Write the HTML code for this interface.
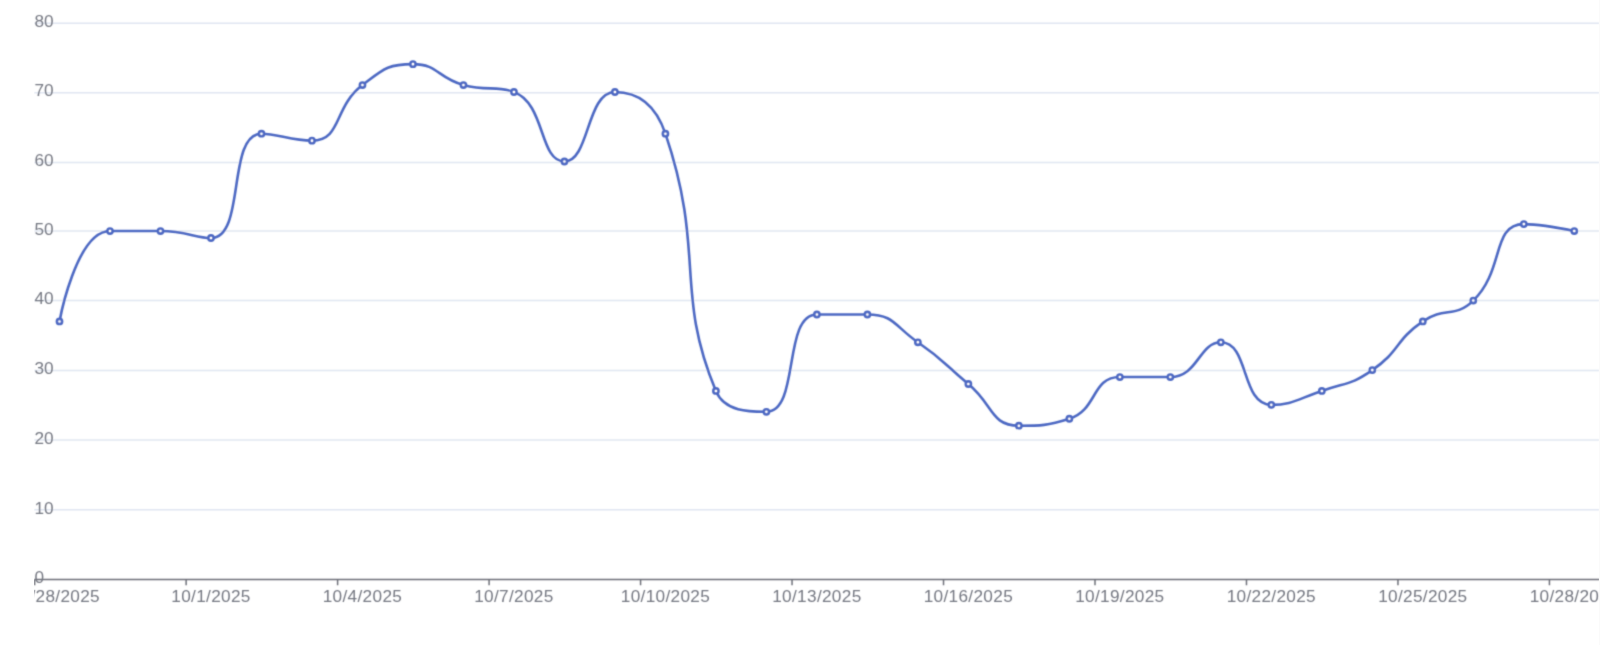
<!DOCTYPE html>
<html><head><meta charset="utf-8"><style>
html,body{margin:0;padding:0;background:#fff;width:1600px;height:645px;overflow:hidden}
svg{display:block;font-family:"Liberation Sans",sans-serif}
</style></head><body>
<svg width="1600" height="645" viewBox="0 0 1600 645">
<defs><filter id="bl" x="-1%" y="-1%" width="102%" height="102%"><feConvolveMatrix order="3" kernelMatrix="0.0277 0.1110 0.0277 0.1110 0.4452 0.1110 0.0277 0.1110 0.0277" divisor="1" edgeMode="none"/></filter><clipPath id="c"><rect x="34.00" y="0" width="1565.00" height="645"/></clipPath></defs>
<g clip-path="url(#c)"><g filter="url(#bl)">
<line x1="34.35" y1="509.70" x2="1599" y2="509.70" stroke="#E0E6F1" stroke-width="1.5"/>
<line x1="34.35" y1="440.10" x2="1599" y2="440.10" stroke="#E0E6F1" stroke-width="1.5"/>
<line x1="34.35" y1="370.40" x2="1599" y2="370.40" stroke="#E0E6F1" stroke-width="1.5"/>
<line x1="34.35" y1="300.40" x2="1599" y2="300.40" stroke="#E0E6F1" stroke-width="1.5"/>
<line x1="34.35" y1="231.00" x2="1599" y2="231.00" stroke="#E0E6F1" stroke-width="1.5"/>
<line x1="34.35" y1="162.50" x2="1599" y2="162.50" stroke="#E0E6F1" stroke-width="1.5"/>
<line x1="34.35" y1="92.70" x2="1599" y2="92.70" stroke="#E0E6F1" stroke-width="1.5"/>
<line x1="34.35" y1="23.20" x2="1599" y2="23.20" stroke="#E0E6F1" stroke-width="1.5"/>
<line x1="34.35" y1="579.55" x2="1599.6" y2="579.55" stroke="#6E7079" stroke-width="1.5"/>
<line x1="34.65" y1="579.55" x2="34.65" y2="585.25" stroke="#6E7079" stroke-width="1.5"/>
<line x1="186.13" y1="579.55" x2="186.13" y2="585.25" stroke="#6E7079" stroke-width="1.5"/>
<line x1="337.61" y1="579.55" x2="337.61" y2="585.25" stroke="#6E7079" stroke-width="1.5"/>
<line x1="489.09" y1="579.55" x2="489.09" y2="585.25" stroke="#6E7079" stroke-width="1.5"/>
<line x1="640.57" y1="579.55" x2="640.57" y2="585.25" stroke="#6E7079" stroke-width="1.5"/>
<line x1="792.04" y1="579.55" x2="792.04" y2="585.25" stroke="#6E7079" stroke-width="1.5"/>
<line x1="943.52" y1="579.55" x2="943.52" y2="585.25" stroke="#6E7079" stroke-width="1.5"/>
<line x1="1095.00" y1="579.55" x2="1095.00" y2="585.25" stroke="#6E7079" stroke-width="1.5"/>
<line x1="1246.48" y1="579.55" x2="1246.48" y2="585.25" stroke="#6E7079" stroke-width="1.5"/>
<line x1="1397.96" y1="579.55" x2="1397.96" y2="585.25" stroke="#6E7079" stroke-width="1.5"/>
<line x1="1549.44" y1="579.55" x2="1549.44" y2="585.25" stroke="#6E7079" stroke-width="1.5"/>
<text x="34.4" y="583" font-size="17.2" fill="#757882">0</text>
<text x="34.4" y="514" font-size="17.2" fill="#757882">10</text>
<text x="34.4" y="444" font-size="17.2" fill="#757882">20</text>
<text x="34.4" y="374" font-size="17.2" fill="#757882">30</text>
<text x="34.4" y="304" font-size="17.2" fill="#757882">40</text>
<text x="34.4" y="235" font-size="17.2" fill="#757882">50</text>
<text x="34.4" y="166" font-size="17.2" fill="#757882">60</text>
<text x="34.4" y="96" font-size="17.2" fill="#757882">70</text>
<text x="34.4" y="27" font-size="17.2" fill="#757882">80</text>
<text x="60.30" y="602.2" font-size="17.2" fill="#757882" text-anchor="middle" letter-spacing="0.33">9/28/2025</text>
<text x="210.98" y="602.2" font-size="17.2" fill="#757882" text-anchor="middle" letter-spacing="0.33">10/1/2025</text>
<text x="362.46" y="602.2" font-size="17.2" fill="#757882" text-anchor="middle" letter-spacing="0.33">10/4/2025</text>
<text x="513.94" y="602.2" font-size="17.2" fill="#757882" text-anchor="middle" letter-spacing="0.33">10/7/2025</text>
<text x="665.42" y="602.2" font-size="17.2" fill="#757882" text-anchor="middle" letter-spacing="0.33">10/10/2025</text>
<text x="816.89" y="602.2" font-size="17.2" fill="#757882" text-anchor="middle" letter-spacing="0.33">10/13/2025</text>
<text x="968.37" y="602.2" font-size="17.2" fill="#757882" text-anchor="middle" letter-spacing="0.33">10/16/2025</text>
<text x="1119.85" y="602.2" font-size="17.2" fill="#757882" text-anchor="middle" letter-spacing="0.33">10/19/2025</text>
<text x="1271.33" y="602.2" font-size="17.2" fill="#757882" text-anchor="middle" letter-spacing="0.33">10/22/2025</text>
<text x="1422.81" y="602.2" font-size="17.2" fill="#757882" text-anchor="middle" letter-spacing="0.33">10/25/2025</text>
<text x="1574.29" y="602.2" font-size="17.2" fill="#757882" text-anchor="middle" letter-spacing="0.33">10/28/2025</text>
<path d="M59.50,321.43C59.50,321.43 76.05,231.04 109.99,231.04C126.55,231.04 135.36,231.04 160.49,231.04C185.85,231.04 195.55,237.99 210.98,237.99C246.05,237.99 226.40,133.70 261.47,133.70C276.90,133.70 291.55,140.65 311.97,140.65C342.05,140.65 333.22,107.17 362.46,85.03C383.72,68.93 387.70,64.17 412.95,64.17C438.20,64.17 437.32,77.83 463.44,85.03C487.81,91.74 495.14,85.03 513.94,91.98C545.63,103.70 539.18,161.51 564.43,161.51C589.68,161.51 586.27,91.98 614.92,91.98C636.76,91.98 655.32,103.82 665.42,133.70C705.82,253.31 674.12,290.86 715.91,390.96C724.62,411.82 749.61,411.82 766.40,411.82C800.10,411.82 782.32,314.48 816.89,314.48C832.81,314.48 843.81,314.48 867.39,314.48C894.30,314.48 894.24,326.01 917.88,342.29C944.74,360.78 943.13,363.15 968.37,384.01C993.62,404.87 990.47,425.72 1018.87,425.72C1040.96,425.72 1047.26,425.72 1069.36,418.77C1097.76,409.84 1091.34,377.05 1119.85,377.05C1141.83,377.05 1147.54,377.05 1170.35,377.05C1198.03,377.05 1199.00,342.29 1220.84,342.29C1249.49,342.29 1240.76,404.87 1271.33,404.87C1291.25,404.87 1297.11,399.47 1321.83,390.96C1347.60,382.08 1350.21,385.32 1372.32,370.10C1400.70,350.56 1394.43,340.97 1422.81,321.43C1444.92,306.21 1454.45,318.75 1473.30,300.57C1504.94,270.08 1491.35,224.09 1523.80,224.09C1541.84,224.09 1574.29,231.04 1574.29,231.04" fill="none" stroke="#4D69C3" stroke-width="2.6" stroke-linejoin="bevel"/>
<circle cx="59.50" cy="321.43" r="2.6" fill="#fff" stroke="#4D69C3" stroke-width="2.6"/>
<circle cx="109.99" cy="231.04" r="2.6" fill="#fff" stroke="#4D69C3" stroke-width="2.6"/>
<circle cx="160.49" cy="231.04" r="2.6" fill="#fff" stroke="#4D69C3" stroke-width="2.6"/>
<circle cx="210.98" cy="237.99" r="2.6" fill="#fff" stroke="#4D69C3" stroke-width="2.6"/>
<circle cx="261.47" cy="133.70" r="2.6" fill="#fff" stroke="#4D69C3" stroke-width="2.6"/>
<circle cx="311.97" cy="140.65" r="2.6" fill="#fff" stroke="#4D69C3" stroke-width="2.6"/>
<circle cx="362.46" cy="85.03" r="2.6" fill="#fff" stroke="#4D69C3" stroke-width="2.6"/>
<circle cx="412.95" cy="64.17" r="2.6" fill="#fff" stroke="#4D69C3" stroke-width="2.6"/>
<circle cx="463.44" cy="85.03" r="2.6" fill="#fff" stroke="#4D69C3" stroke-width="2.6"/>
<circle cx="513.94" cy="91.98" r="2.6" fill="#fff" stroke="#4D69C3" stroke-width="2.6"/>
<circle cx="564.43" cy="161.51" r="2.6" fill="#fff" stroke="#4D69C3" stroke-width="2.6"/>
<circle cx="614.92" cy="91.98" r="2.6" fill="#fff" stroke="#4D69C3" stroke-width="2.6"/>
<circle cx="665.42" cy="133.70" r="2.6" fill="#fff" stroke="#4D69C3" stroke-width="2.6"/>
<circle cx="715.91" cy="390.96" r="2.6" fill="#fff" stroke="#4D69C3" stroke-width="2.6"/>
<circle cx="766.40" cy="411.82" r="2.6" fill="#fff" stroke="#4D69C3" stroke-width="2.6"/>
<circle cx="816.89" cy="314.48" r="2.6" fill="#fff" stroke="#4D69C3" stroke-width="2.6"/>
<circle cx="867.39" cy="314.48" r="2.6" fill="#fff" stroke="#4D69C3" stroke-width="2.6"/>
<circle cx="917.88" cy="342.29" r="2.6" fill="#fff" stroke="#4D69C3" stroke-width="2.6"/>
<circle cx="968.37" cy="384.01" r="2.6" fill="#fff" stroke="#4D69C3" stroke-width="2.6"/>
<circle cx="1018.87" cy="425.72" r="2.6" fill="#fff" stroke="#4D69C3" stroke-width="2.6"/>
<circle cx="1069.36" cy="418.77" r="2.6" fill="#fff" stroke="#4D69C3" stroke-width="2.6"/>
<circle cx="1119.85" cy="377.05" r="2.6" fill="#fff" stroke="#4D69C3" stroke-width="2.6"/>
<circle cx="1170.35" cy="377.05" r="2.6" fill="#fff" stroke="#4D69C3" stroke-width="2.6"/>
<circle cx="1220.84" cy="342.29" r="2.6" fill="#fff" stroke="#4D69C3" stroke-width="2.6"/>
<circle cx="1271.33" cy="404.87" r="2.6" fill="#fff" stroke="#4D69C3" stroke-width="2.6"/>
<circle cx="1321.83" cy="390.96" r="2.6" fill="#fff" stroke="#4D69C3" stroke-width="2.6"/>
<circle cx="1372.32" cy="370.10" r="2.6" fill="#fff" stroke="#4D69C3" stroke-width="2.6"/>
<circle cx="1422.81" cy="321.43" r="2.6" fill="#fff" stroke="#4D69C3" stroke-width="2.6"/>
<circle cx="1473.30" cy="300.57" r="2.6" fill="#fff" stroke="#4D69C3" stroke-width="2.6"/>
<circle cx="1523.80" cy="224.09" r="2.6" fill="#fff" stroke="#4D69C3" stroke-width="2.6"/>
<circle cx="1574.29" cy="231.04" r="2.6" fill="#fff" stroke="#4D69C3" stroke-width="2.6"/>
</g></g><rect x="1599" y="0" width="1" height="645" fill="#FAFAFA"/></svg>
</body></html>
